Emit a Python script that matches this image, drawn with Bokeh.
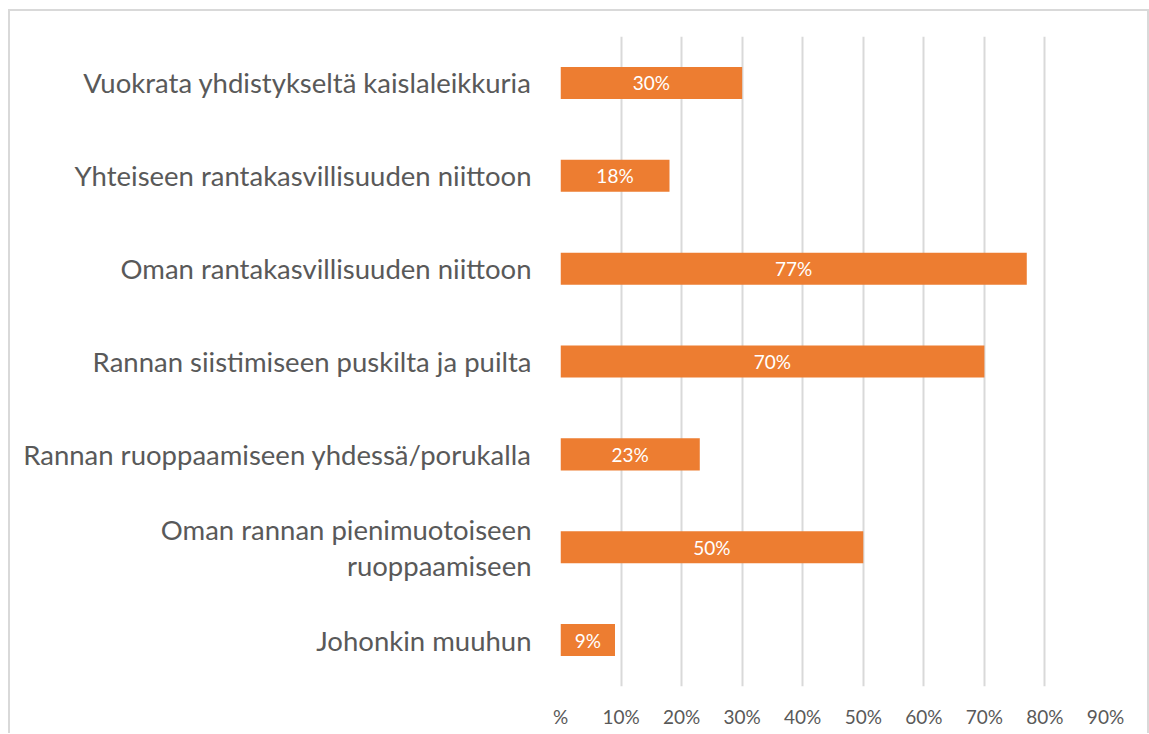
from bokeh.plotting import figure
from bokeh.models import ColumnDataSource, FixedTicker, LabelSet, Range1d, FactorRange
from bokeh.embed import file_html
from bokeh.resources import INLINE
from bokeh.core.properties import value

categories = [
    "Vuokrata yhdistykseltä kaislaleikkuria",
    "Yhteiseen rantakasvillisuuden niittoon",
    "Oman rantakasvillisuuden niittoon",
    "Rannan siistimiseen puskilta ja puilta",
    "Rannan ruoppaamiseen yhdessä/porukalla",
    "Oman rannan pienimuotoiseen\nruoppaamiseen",
    "Johonkin muuhun",
]
values = [0.30, 0.18, 0.77, 0.70, 0.23, 0.50, 0.09]
labels = ["30%", "18%", "77%", "70%", "23%", "50%", "9%"]
tick_values = [0, 0.1, 0.2, 0.3, 0.4, 0.5, 0.6, 0.7, 0.8, 0.9]
tick_labels = ["%", "10%", "20%", "30%", "40%", "50%", "60%", "70%", "80%", "90%"]

source = ColumnDataSource(dict(cat=categories, val=values, half=[v / 2 for v in values], lab=labels))

FONT = "Lato"
TXT = "#595959"

p = figure(
    width=1141, height=724,
    y_range=FactorRange(factors=list(reversed(categories))),
    x_range=Range1d(0, 0.9),
    output_backend="svg", toolbar_location=None,
    min_border_left=550, min_border_right=46, min_border_top=25, min_border_bottom=49,
)
p.styles = {
    "margin-left": "8px", "margin-top": "9px",
    "border-top": "2px solid #d9d9d9", "border-left": "2px solid #d9d9d9",
    "border-right": "2px solid #d9d9d9", "box-sizing": "border-box",
}

p.hbar(y="cat", right="val", left=0, height=0.345, source=source, color="#ED7D31", line_color=None)

lbl = LabelSet(x="half", y="cat", text="lab", source=source, text_align="center", text_baseline="middle",
               text_color="white", text_font=value(FONT), text_font_size="19px")
p.add_layout(lbl)

p.outline_line_color = None
p.ygrid.grid_line_color = None
p.xgrid.grid_line_color = "#d9d9d9"
p.xgrid.grid_line_width = 2
p.xaxis.ticker = FixedTicker(ticks=tick_values)
p.xaxis.major_label_overrides = {v: l for v, l in zip(tick_values, tick_labels)}
p.xaxis.axis_line_color = None
p.xaxis.major_tick_line_color = None
p.xaxis.minor_tick_line_color = None
p.xaxis.major_label_standoff = 12
p.xaxis.major_label_text_font = FONT
p.xaxis.major_label_text_font_size = "19px"
p.xaxis.major_label_text_color = TXT

p.yaxis.axis_line_color = None
p.yaxis.major_tick_line_color = None
p.yaxis.major_label_standoff = 23
p.yaxis.major_label_text_font = FONT
p.yaxis.major_label_text_font_size = "27.5px"
p.yaxis.major_label_text_line_height = 1.1
p.yaxis.major_label_text_color = TXT

open("out.html", "w").write(file_html(p, INLINE))
